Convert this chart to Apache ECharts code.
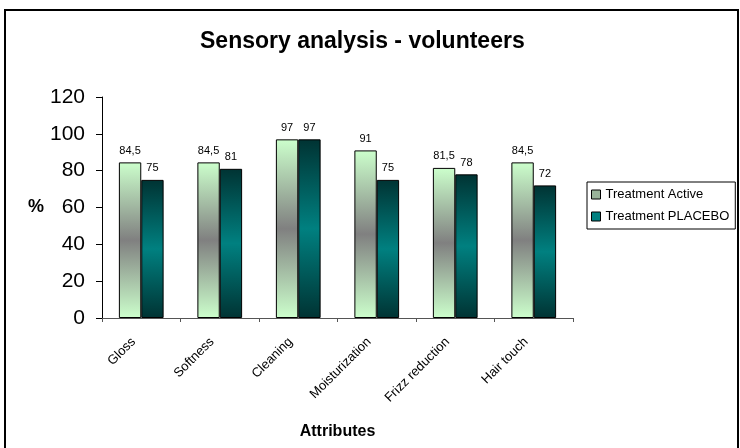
<!DOCTYPE html>
<html>
<head>
<meta charset="utf-8">
<script src="https://cdn.jsdelivr.net/npm/echarts@6/dist/echarts.min.js"></script>
<style>
  html, body { margin: 0; padding: 0; background: #fff; }
  #chart { width: 740px; height: 448px; }
</style>
</head>
<body>
<div id="chart"></div>
<script>
const categories = ['Gloss', 'Softness', 'Cleaning', 'Moisturization', 'Frizz reduction', 'Hair touch']
const activeValues = [84.5, 84.5, 97, 91, 81.5, 84.5]
const placeboValues = [75, 81, 97, 75, 78, 72]
const yTicks = [0, 20, 40, 60, 80, 100, 120]

const FONT = 'Liberation Sans, Arial, sans-serif'

// vertical gradients like the old Excel fill
const activeFill = new echarts.graphic.LinearGradient(0, 0, 0, 1, [
  { offset: 0, color: '#ccffcc' },
  { offset: 0.5, color: '#808080' },
  { offset: 1, color: '#ccffcc' },
])
const placeboFill = new echarts.graphic.LinearGradient(0, 0, 0, 1, [
  { offset: 0, color: '#003333' },
  { offset: 0.5, color: '#008080' },
  { offset: 1, color: '#003333' },
])

const fmt = (p) => String(p.value).replace('.', ',')

const chart = echarts.init(document.getElementById('chart'), null, { renderer: 'canvas' })

chart.setOption({
  backgroundColor: '#ffffff',
  animation: false,
  textStyle: { fontFamily: FONT },
  title: {
    text: 'Sensory analysis - volunteers',
    left: 195,
    top: 25,
    textStyle: { fontSize: 23, fontWeight: 'bold', color: '#000', fontFamily: FONT },
  },
  graphic: [{
    type: 'rect',
    shape: { x: 5, y: 10, width: 733, height: 460 },
    style: { fill: 'none', stroke: '#000', lineWidth: 2 },
    silent: true,
  }],
  legend: {
    left: 587,
    top: 182,
    orient: 'vertical',
    borderColor: '#000',
    borderWidth: 1,
    padding: [6, 6, 6, 4],
    itemGap: 9,
    itemWidth: 9,
    itemHeight: 9,
    icon: 'rect',
    textStyle: { fontSize: 13, color: '#000', fontFamily: FONT },
    data: [
      { name: 'Treatment Active', itemStyle: { color: '#99b399', borderColor: '#000', borderWidth: 1 } },
      { name: 'Treatment PLACEBO', itemStyle: { color: '#008080', borderColor: '#000', borderWidth: 1 } },
    ],
  },
  grid: { left: 102, right: 167, top: 97, bottom: 130 },
  xAxis: {
    type: 'category',
    data: categories,
    name: 'Attributes',
    nameLocation: 'middle',
    nameGap: 106,
    nameTextStyle: { fontSize: 16, fontWeight: 'bold', color: '#000' },
    axisLine: { lineStyle: { color: '#555', width: 1 } },
    axisTick: { show: true, length: 4, lineStyle: { color: '#555' } },
    axisLabel: { rotate: 45, fontSize: 13, color: '#000', margin: 14, padding: [0, 11, 0, 0] },
  },
  yAxis: {
    type: 'value',
    min: yTicks[0],
    max: yTicks[yTicks.length - 1],
    interval: 20,
    name: '%',
    nameLocation: 'middle',
    nameGap: 58,
    nameRotate: 0,
    nameMoveOverlap: false,
    nameTextStyle: { fontSize: 18, fontWeight: 'bold', color: '#000' },
    axisLine: { show: true, lineStyle: { color: '#000', width: 1 } },
    axisTick: { show: true, length: 6, lineStyle: { color: '#000' } },
    axisLabel: { fontSize: 21, color: '#000', margin: 17 },
    splitLine: { show: false },
  },
  series: [
    {
      name: 'Treatment Active',
      type: 'bar',
      data: activeValues,
      barGap: '0%',
      barCategoryGap: '43%',
      itemStyle: { color: activeFill, borderColor: '#000', borderWidth: 1 },
      label: { show: true, position: 'top', distance: 6, fontSize: 11, color: '#000', formatter: fmt },
    },
    {
      name: 'Treatment PLACEBO',
      type: 'bar',
      data: placeboValues,
      itemStyle: { color: placeboFill, borderColor: '#000', borderWidth: 1 },
      label: { show: true, position: 'top', distance: 6, fontSize: 11, color: '#000', formatter: fmt },
    },
  ],
})
</script>
</body>
</html>
